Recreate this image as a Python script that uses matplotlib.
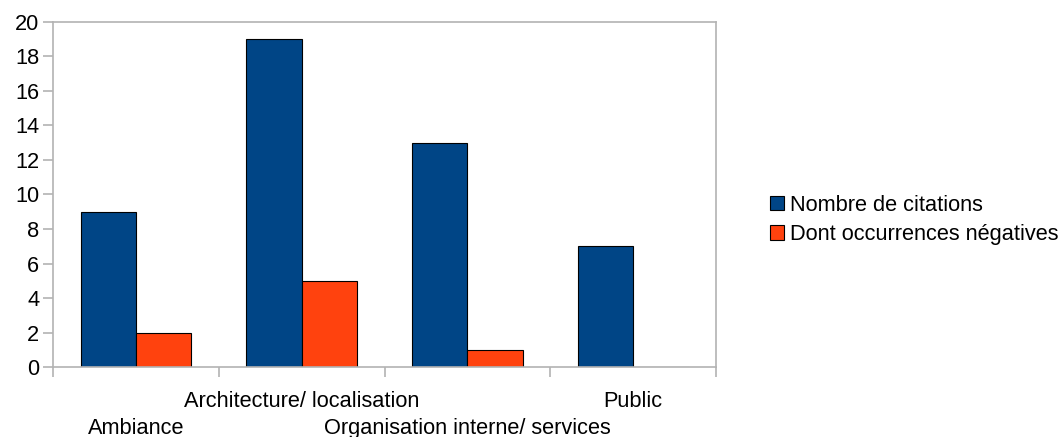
import numpy as np
import matplotlib.pyplot as plt
from matplotlib.patches import Patch

plt.rcParams['font.family'] = ['Liberation Sans', 'DejaVu Sans']

# ================== données ==================
categories = ['Ambiance', 'Architecture/ localisation',
              'Organisation interne/ services', 'Public']
nb_citations = [9, 19, 13, 7]
occ_negatives = [2, 5, 1, 0]
series_names = ['Nombre de citations', 'Dont occurrences négatives']

BLUE = '#004586'
ORANGE = '#ff420e'
GREY = '#b3b3b3'
FS = 15.7

fig = plt.figure(figsize=(10.63, 4.37), dpi=100)
ax = fig.add_axes([0.0499, 0.160, 0.6238, 0.790])

x = np.arange(len(categories))
w = 1 / 3
ax.bar(x - w / 2, nb_citations, w, color=BLUE, edgecolor='black', linewidth=0.8)
ax.bar(x + w / 2, occ_negatives, w, color=ORANGE, edgecolor='black', linewidth=0.8)

ax.set_xlim(-0.5, len(categories) - 0.5)
ax.set_ylim(0, 20)
ax.set_yticks(range(0, 21, 2))

for s in ax.spines.values():
    s.set_color(GREY)
    s.set_linewidth(1.2)
ax.tick_params(axis='y', length=7, color=GREY, width=1.2, labelsize=FS, pad=3)

# graduations x aux limites des catégories, étiquettes en quinconce
ax.set_xticks(np.arange(-0.5, len(categories)), labels=[])
ax.tick_params(axis='x', length=7, color=GREY, width=1.2)
for i, cat in enumerate(categories):
    dy = -34 if i % 2 else -61
    ax.annotate(cat, xy=(x[i], 0), xycoords=('data', 'axes fraction'),
                xytext=(0, dy), textcoords='offset pixels',
                ha='center', va='center', fontsize=FS)

handles = [Patch(facecolor=BLUE, edgecolor='black', linewidth=0.8),
           Patch(facecolor=ORANGE, edgecolor='black', linewidth=0.8)]
fig.legend(handles, series_names, loc='center left',
           bbox_to_anchor=(750 / 1063, 1 - 220 / 437), frameon=False,
           fontsize=FS, handlelength=0.65, handleheight=0.65,
           handletextpad=0.3, labelspacing=0.4)

plt.savefig('out.png', dpi=100)
